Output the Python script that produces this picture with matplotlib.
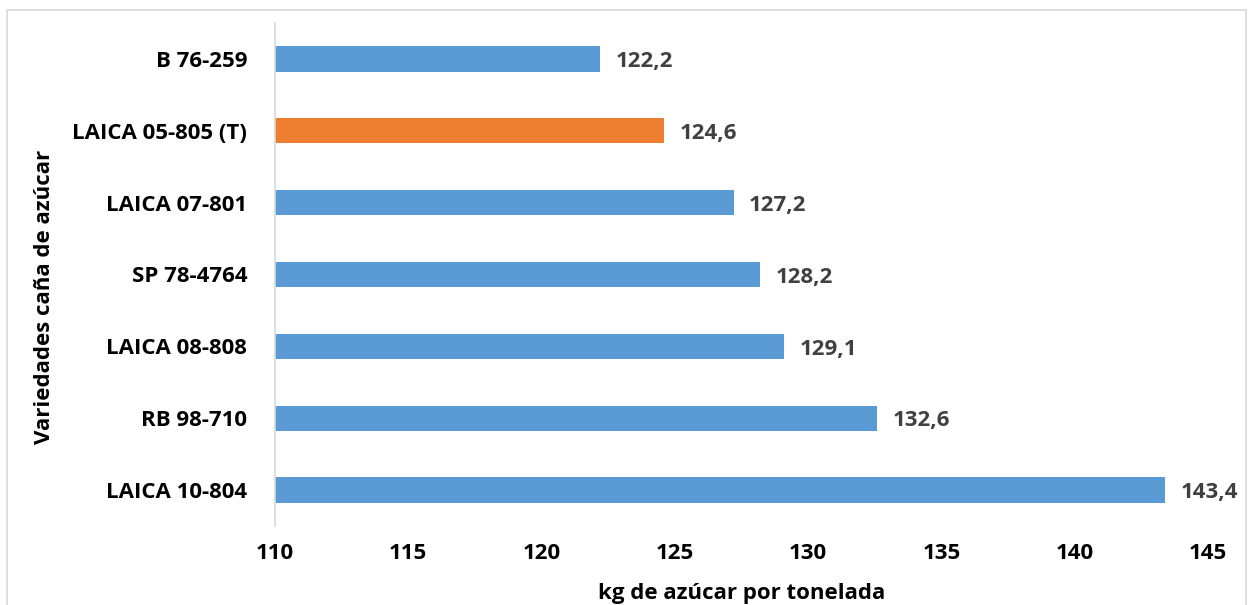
import matplotlib.pyplot as plt
from matplotlib.patches import Rectangle

variedades = ["LAICA 10-804", "RB 98-710", "LAICA 08-808", "SP 78-4764",
              "LAICA 07-801", "LAICA 05-805 (T)", "B 76-259"]
valores = [143.4, 132.6, 129.1, 128.2, 127.2, 124.6, 122.2]
etiquetas = ["143,4", "132,6", "129,1", "128,2", "127,2", "124,6", "122,2"]
testigo = "LAICA 05-805 (T)"
xticks = [110, 115, 120, 125, 130, 135, 140, 145]

azul = "#5B9BD5"
naranja = "#ED7D31"

plt.rcParams['font.family'] = ['Open Sans', 'DejaVu Sans']

W, H = 1249, 605
fig = plt.figure(figsize=(W / 100, H / 100), dpi=100)
ax = fig.add_axes([275 / W, 1 - 526 / H, (1208 - 275) / W, (526 - 23) / H])

colores = [naranja if v == testigo else azul for v in variedades]
ax.barh(range(len(variedades)), valores, height=0.35, left=0, color=colores)
ax.set_xlim(110, 145)
ax.set_ylim(-0.5, len(variedades) - 0.5)

for i, (v, t) in enumerate(zip(valores, etiquetas)):
    ax.annotate(t, (v, i), xytext=(11, -2), textcoords="offset points",
                ha="left", va="center", fontsize=16, fontweight="bold",
                color="#404040")

ax.set_yticks(range(len(variedades)))
ax.set_yticklabels(variedades, fontsize=16, fontweight="bold", color="black")
ax.set_xticks(xticks)
ax.set_xticklabels([str(x) for x in xticks], fontsize=16, fontweight="bold",
                   color="black")
ax.tick_params(axis="both", length=0)
ax.tick_params(axis="y", pad=20)
ax.tick_params(axis="x", pad=12)

for s in ["top", "right", "bottom"]:
    ax.spines[s].set_visible(False)
ax.spines["left"].set_color("#D9D9D9")
ax.spines["left"].set_linewidth(1.2)

ax.set_xlabel("kg de azúcar por tonelada", fontsize=16, fontweight="bold",
              labelpad=14)
ax.set_ylabel("Variedades caña de azúcar", fontsize=16, fontweight="bold",
              va="center")
ax.yaxis.set_label_coords((45 - 275) / (1208 - 275), (526 - 297) / (526 - 23))

fig.patches.append(Rectangle((7 / W, -0.01), (1246 - 7) / W, 1 - 10 / H + 0.01,
                             transform=fig.transFigure, fill=False,
                             edgecolor="#D9D9D9", linewidth=1.2))

fig.savefig("out.png", dpi=100, facecolor="white")
